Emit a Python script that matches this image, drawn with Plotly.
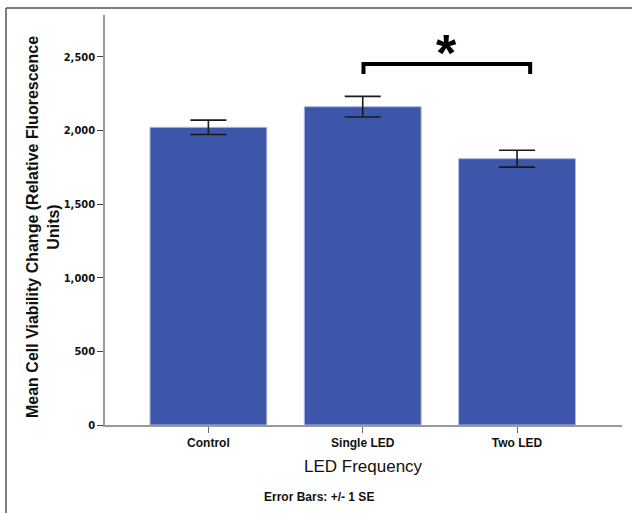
import plotly.graph_objects as go

categories = ["Control", "Single LED", "Two LED"]
means = [2022, 2162, 1809]
se = [49, 70, 57]
y_ticks = [0, 500, 1000, 1500, 2000, 2500]
y_tick_labels = ["0", "500", "1,000", "1,500", "2,000", "2,500"]
sig_pair = [1, 2]          # bracket between Single LED and Two LED
sig_label = "*"

x_pos = list(range(len(categories)))

# plot area in pixels: x 105..622, y 15..425
L, R, T, B = 105, 10, 15, 88
W, H = 632, 513
pw, ph = W - L - R, H - T - B

def px(x):
    return (x - L) / pw

def py(y):
    return (H - B - y) / ph

FONT = "Liberation Sans, Arial, sans-serif"
NARROW = "Liberation Sans Narrow, Arial Narrow, DejaVu Sans Condensed, sans-serif"

fig = go.Figure()
fig.add_trace(go.Bar(
    x=x_pos, y=means, width=0.757,
    marker=dict(color="#3d56a9", line=dict(color="#a9b8e6", width=1)),
    error_y=dict(type="data", array=se, visible=True, color="#1a1a1a",
                 thickness=1.6, width=18),
    showlegend=False,
))

x0, x1 = sig_pair[0] + 0.005, sig_pair[1] + 0.085
ytop, yleg = 2452, 2384
fig.add_shape(type="path",
              path=f"M {x0},{yleg} L {x0},{ytop} L {x1},{ytop} L {x1},{yleg}",
              xref="x", yref="y", line=dict(color="black", width=4))
fig.add_annotation(x=(x0 + x1) / 2, y=2530, xref="x", yref="y", text=f"<b>{sig_label}</b>",
                   showarrow=False, font=dict(family=FONT, size=52, color="black"),
                   xanchor="center", yanchor="middle")

# outer frame (top and left edges visible)
fig.add_shape(type="line", xref="paper", yref="paper",
              x0=px(6), x1=px(640), y0=py(8), y1=py(8),
              line=dict(color="#555555", width=1.5), layer="below")
fig.add_shape(type="line", xref="paper", yref="paper",
              x0=px(6), x1=px(6), y0=py(8), y1=py(520),
              line=dict(color="#555555", width=1.5), layer="below")

fig.add_annotation(xref="paper", yref="paper", x=px(43), y=py(227),
                   text="<b>Mean Cell Viability Change (Relative Fluorescence<br>Units)</b>",
                   textangle=-90, showarrow=False, xanchor="center", yanchor="middle",
                   font=dict(family=FONT, size=16, color="#111111"))
fig.add_annotation(xref="paper", yref="paper", x=px(363), y=py(466),
                   text="LED Frequency", showarrow=False, xanchor="center", yanchor="middle",
                   font=dict(family=FONT, size=17, color="#111111"))
fig.add_annotation(xref="paper", yref="paper", x=px(319), y=py(497),
                   text="<b>Error Bars: +/- 1 SE</b>", showarrow=False,
                   xanchor="center", yanchor="middle",
                   font=dict(family=FONT, size=12, color="#111111"))

fig.update_layout(
    width=W, height=H,
    margin=dict(l=L, r=R, t=T, b=B),
    paper_bgcolor="white", plot_bgcolor="white",
    xaxis=dict(range=[-0.67, 2.68], tickvals=x_pos,
               ticktext=[f"<b>{c}</b>" for c in categories],
               showline=True, linecolor="#999999", linewidth=1.5,
               ticks="outside", ticklen=6, tickcolor="#666666", tickwidth=1.2,
               tickfont=dict(family=FONT, size=12, color="#111111"),
               showgrid=False, zeroline=False),
    yaxis=dict(range=[0, 2785], tickvals=y_ticks,
               ticktext=[f"<b>{t}</b>" for t in y_tick_labels],
               showline=True, linecolor="#999999", linewidth=1.5,
               ticks="outside", ticklen=6, tickcolor="#444444", tickwidth=1.2,
               tickfont=dict(family=NARROW, size=11, color="#111111"),
               showgrid=False, zeroline=False),
)

fig.write_html("out.html", config={"displayModeBar": False},
               post_script="document.body.style.margin='0';")
